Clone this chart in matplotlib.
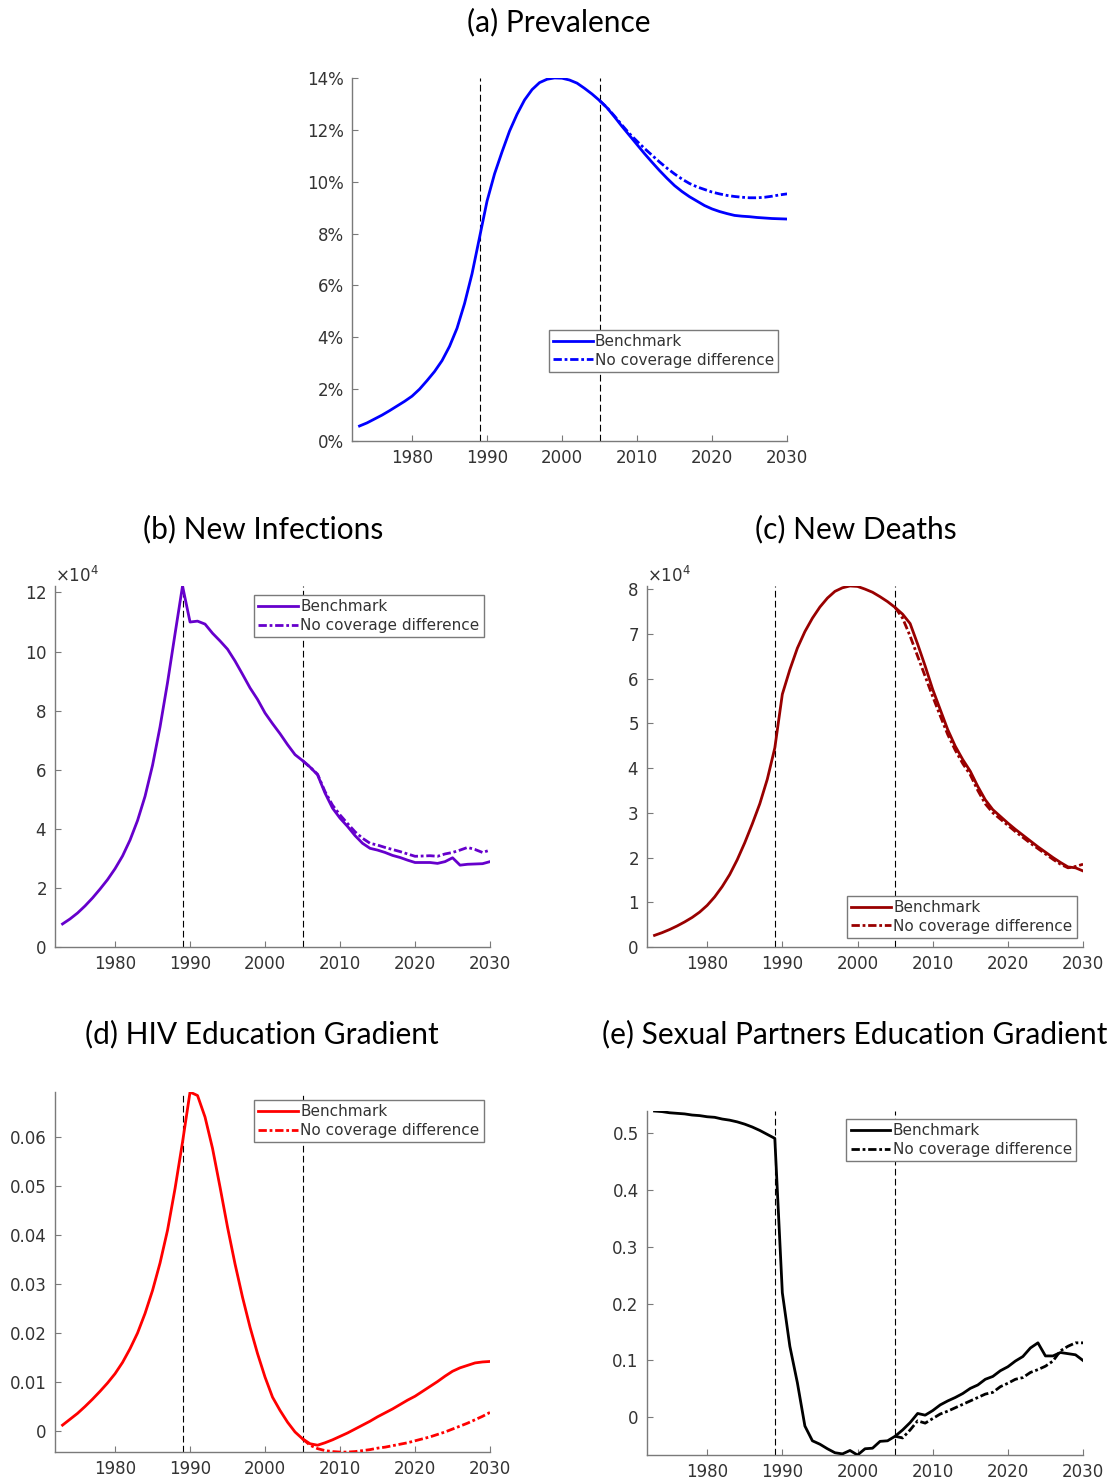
import matplotlib
matplotlib.use("Agg")
import matplotlib.pyplot as plt
from matplotlib.ticker import FuncFormatter
import numpy as np

# years shared by every panel
years = np.arange(1973, 2031)
split_year = 2005

# (a) prevalence, percent
prev_bench = [0.58, 0.70, 0.85, 1.00, 1.17, 1.35, 1.53, 1.73, 2.00, 2.33,
              2.68, 3.10, 3.65, 4.35, 5.30, 6.45, 7.85, 9.25, 10.30, 11.15,
              11.95, 12.60, 13.15, 13.55, 13.82, 13.95, 14.00, 13.99, 13.92, 13.80,
              13.60, 13.38, 13.13, 12.85, 12.50, 12.13, 11.78, 11.43, 11.08, 10.75,
              10.43, 10.13, 9.85, 9.62, 9.42, 9.25, 9.08, 8.95, 8.85, 8.77,
              8.70, 8.67, 8.65, 8.62, 8.60, 8.58, 8.57, 8.56]
prev_nocov = [13.13, 12.86, 12.53, 12.18, 11.85, 11.56, 11.28, 11.02, 10.76, 10.52,
              10.30, 10.10, 9.93, 9.80, 9.70, 9.60, 9.53, 9.47, 9.43, 9.40,
              9.38, 9.38, 9.40, 9.44, 9.49, 9.53]

# (b) new infections
inf_bench = [7800, 9500, 11500, 13900, 16600, 19600, 22800, 26500, 30800, 36200,
             42800, 51000, 61500, 74500, 89500, 106000, 122200, 110000, 110300, 109300,
             106200, 103600, 100800, 96800, 92300, 87700, 83800, 79200, 75600, 72200,
             68500, 65100, 63100, 60900, 58300, 52100, 47000, 43600, 40800, 37700,
             35100, 33400, 32800, 32000, 31000, 30300, 29400, 28600, 28600, 28600,
             28300, 28900, 30200, 27700, 28000, 28100, 28200, 28900]
inf_nocov = [63100, 60900, 58500, 52600, 48000, 44700, 41800, 39000, 36800, 35100,
             34500, 33700, 33000, 32300, 31500, 30700, 30800, 30900, 30700, 31500,
             32000, 32800, 33700, 33000, 32000, 32800]

# (c) new deaths
death_bench = [2600, 3200, 3900, 4700, 5600, 6600, 7800, 9300, 11200, 13500,
               16200, 19500, 23300, 27500, 32000, 37500, 44500, 56500, 62000, 66800,
               70500, 73500, 76000, 78000, 79500, 80300, 80700, 80600, 80000, 79300,
               78300, 77200, 75900, 74400, 72300, 67700, 62800, 57600, 53100, 48600,
               44900, 41900, 39300, 35900, 32900, 30700, 29200, 27700, 26300, 25000,
               23700, 22400, 21200, 20000, 18900, 17900, 17700, 17000]
death_nocov = [75900, 73500, 69500, 65000, 60500, 56000, 51700, 47500, 44000, 41000,
               38500, 35000, 32000, 30000, 28600, 27200, 25800, 24500, 23200, 22000,
               20800, 19600, 18500, 17700, 18000, 18500]

# (d) HIV education gradient
hiv_bench = [0.0012, 0.0024, 0.0036, 0.0050, 0.0065, 0.0081, 0.0098, 0.0117, 0.0140, 0.0168,
             0.0200, 0.0240, 0.0287, 0.0343, 0.0410, 0.0495, 0.0590, 0.0692, 0.0685, 0.0641,
             0.0577, 0.0498, 0.0416, 0.0341, 0.0273, 0.0212, 0.0158, 0.0110, 0.0069, 0.0042,
             0.0018, -0.0002, -0.0016, -0.0026, -0.0029, -0.0024, -0.0018, -0.0011, -0.0004, 0.0004,
             0.0012, 0.0020, 0.0029, 0.0037, 0.0045, 0.0054, 0.0063, 0.0071, 0.0081, 0.0091,
             0.0101, 0.0112, 0.0122, 0.0129, 0.0134, 0.0139, 0.0141, 0.0142]
hiv_nocov = [-0.0016, -0.0029, -0.0036, -0.0040, -0.0042, -0.0043, -0.0043, -0.0042, -0.0040, -0.0038,
             -0.0035, -0.0033, -0.0030, -0.0027, -0.0024, -0.0020, -0.0016, -0.0012, -0.0007, -0.0002,
             0.0004, 0.0010, 0.0016, 0.0023, 0.0030, 0.0038]

# (e) sexual partners education gradient
sex_bench = [0.538, 0.537, 0.535, 0.534, 0.533, 0.531, 0.530, 0.528, 0.527, 0.524,
             0.522, 0.519, 0.515, 0.510, 0.504, 0.497, 0.490, 0.219, 0.125, 0.061,
             -0.015, -0.041, -0.047, -0.055, -0.062, -0.064, -0.058, -0.066, -0.055, -0.054,
             -0.042, -0.041, -0.033, -0.022, -0.009, 0.007, 0.004, 0.012, 0.022, 0.029,
             0.035, 0.042, 0.051, 0.057, 0.067, 0.072, 0.082, 0.089, 0.099, 0.107,
             0.122, 0.131, 0.108, 0.108, 0.114, 0.112, 0.110, 0.100]
sex_nocov = [-0.033, -0.036, -0.022, -0.006, -0.010, -0.002, 0.006, 0.011, 0.017, 0.023,
             0.029, 0.035, 0.041, 0.044, 0.054, 0.060, 0.067, 0.070, 0.079, 0.084,
             0.090, 0.099, 0.117, 0.125, 0.131, 0.131]

policy_years = [1989, 2005]
xticks = [1980, 1990, 2000, 2010, 2020, 2030]

_AXIS_GRAY = "#7a7a7a"
_TICK_TEXT = "#333333"
_NOCOV_DASH = (0, (3, 1, 1, 1))


def _style_axes(ax):
    for side in ("top", "right"):
        ax.spines[side].set_visible(False)
    for side in ("left", "bottom"):
        ax.spines[side].set_color(_AXIS_GRAY)
        ax.spines[side].set_linewidth(1.0)
    ax.tick_params(direction="in", length=4, width=0.8, color=_AXIS_GRAY,
                   labelcolor=_TICK_TEXT, labelsize=12, pad=6)
    ax.set_xticks(xticks)
    ax.set_xlim(1972, 2030)


def _panel(ax, bench, nocov, color, legend_loc, anchor):
    nc_years = years[years >= split_year]
    for yr in policy_years:
        ax.axvline(yr, color="black", linewidth=0.8, linestyle=(0, (6, 3)), zorder=1)
    ax.plot(years, bench, color=color, linewidth=2, label="Benchmark", zorder=3)
    ax.plot(nc_years, nocov, color=color, linewidth=2, linestyle=_NOCOV_DASH,
            label="No coverage difference", zorder=4)
    _style_axes(ax)
    leg = ax.legend(loc=legend_loc, bbox_to_anchor=anchor, fontsize=11,
                    fancybox=False, framealpha=1, edgecolor=_AXIS_GRAY,
                    handlelength=2.6, handletextpad=0.15, labelspacing=0.25,
                    borderpad=0.28, borderaxespad=0)
    leg.get_frame().set_linewidth(1.0)
    for text in leg.get_texts():
        text.set_color(_TICK_TEXT)


def _sci_axis(ax):
    ax.ticklabel_format(axis="y", style="sci", scilimits=(4, 4), useMathText=True)
    ax.yaxis.get_offset_text().set_color(_TICK_TEXT)
    ax.yaxis.get_offset_text().set_fontsize(12)


fig = plt.figure(figsize=(11.14, 14.82), dpi=100)

title_kw = dict(ha="center", va="center", fontsize=21.5, family="Lato", color="black")

# (a)
ax_a = fig.add_axes([0.316, 0.7024, 0.3905, 0.245])
_panel(ax_a, prev_bench, prev_nocov, "#0000ff", "lower right", (0.98, 0.19))
ax_a.set_ylim(0, max(prev_bench))
ax_a.set_yticks(np.arange(0, 15, 2))
ax_a.yaxis.set_major_formatter(FuncFormatter(lambda v, p: f"{v:.0f}%"))
fig.text(559 / 1114, 1 - 22 / 1482, "(a) Prevalence", **title_kw)

# (b)
ax_b = fig.add_axes([0.0494, 0.361, 0.3905, 0.2436])
_panel(ax_b, inf_bench, inf_nocov, "#6600cc", "upper right", (0.986, 0.975))
ax_b.set_ylim(0, max(inf_bench))
ax_b.set_yticks(np.arange(0, 120001, 20000))
_sci_axis(ax_b)
fig.text(263 / 1114, 1 - 529 / 1482, "(b) New Infections", **title_kw)

# (c)
ax_c = fig.add_axes([0.5808, 0.361, 0.3914, 0.2436])
_panel(ax_c, death_bench, death_nocov, "#990000", "lower right", (0.986, 0.025))
ax_c.set_ylim(0, max(death_bench))
ax_c.set_yticks(np.arange(0, 80001, 10000))
_sci_axis(ax_c)
fig.text(856 / 1114, 1 - 529 / 1482, "(c) New Deaths", **title_kw)

# (d)
ax_d = fig.add_axes([0.0494, 0.0202, 0.3905, 0.2429])
_panel(ax_d, hiv_bench, hiv_nocov, "#ff0000", "upper right", (0.986, 0.978))
ax_d.set_ylim(min(hiv_nocov), max(hiv_bench))
ax_d.set_yticks([0, 0.01, 0.02, 0.03, 0.04, 0.05, 0.06])
ax_d.yaxis.set_major_formatter(FuncFormatter(lambda v, p: "0" if abs(v) < 1e-9 else f"{v:.2f}"))
fig.text(262 / 1114, 1 - 1034 / 1482, "(d) HIV Education Gradient", **title_kw)

# (e)
ax_e = fig.add_axes([0.5808, 0.0182, 0.3914, 0.2321])
_panel(ax_e, sex_bench, sex_nocov, "black", "upper right", (0.984, 0.977))
ax_e.set_ylim(min(sex_bench), max(sex_bench))
ax_e.set_yticks([0, 0.1, 0.2, 0.3, 0.4, 0.5])
ax_e.yaxis.set_major_formatter(FuncFormatter(lambda v, p: "0" if abs(v) < 1e-9 else f"{v:.1f}"))
fig.text(855 / 1114, 1 - 1034 / 1482, "(e) Sexual Partners Education Gradient", **title_kw)

fig.savefig("out.png", dpi=100, facecolor="white")
plt.close(fig)
